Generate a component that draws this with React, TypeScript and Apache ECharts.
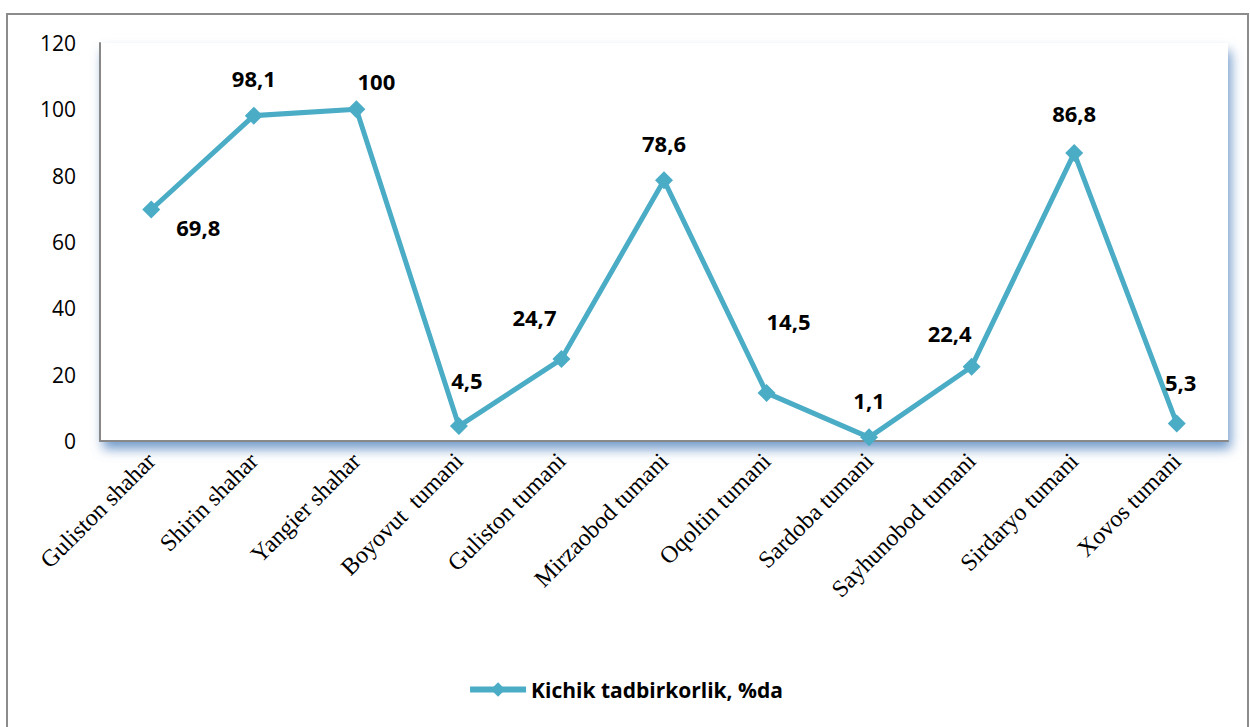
import React, { useEffect, useRef } from "react";
import * as echarts from "echarts";

const categories = [
  "Guliston shahar",
  "Shirin shahar",
  "Yangier shahar",
  "Boyovut  tumani",
  "Guliston tumani",
  "Mirzaobod tumani",
  "Oqoltin tumani",
  "Sardoba tumani",
  "Sayhunobod tumani",
  "Sirdaryo tumani",
  "Xovos tumani",
];
const values = [69.8, 98.1, 100, 4.5, 24.7, 78.6, 14.5, 1.1, 22.4, 86.8, 5.3];
const seriesName = "Kichik tadbirkorlik, %da";
// label offsets [dx, dy] relative to point
const labelOffsets: [number, number][] = [
  [47, 18],
  [0, -38],
  [20, -28],
  [8, -46],
  [-27, -42],
  [0, -37],
  [22, -72],
  [0, -37],
  [-22, -34],
  [0, -40],
  [4, -41],
];

export default function App() {
  const ref = useRef<HTMLDivElement>(null);
  useEffect(() => {
    if (!ref.current) return;
    const chart = echarts.init(ref.current, null, { renderer: "svg" });
    const color = "#4BACC6";
    chart.setOption({
      animation: false,
      backgroundColor: "#ffffff",
      graphic: [
        {
          type: "rect",
          shape: { x: 7, y: 14, width: 1241, height: 730 },
          style: { fill: "none", stroke: "#8c8c8c", lineWidth: 2 },
          z: -10,
        },
      ],
      grid: {
        left: 100,
        right: 22,
        top: 43,
        bottom: 286,
        show: true,
        backgroundColor: "#ffffff",
        borderWidth: 0,
        shadowColor: "rgba(79,129,189,0.8)",
        shadowBlur: 12,
        shadowOffsetX: 3,
        shadowOffsetY: 8,
      },
      legend: {
        bottom: 22,
        left: "center",
        itemWidth: 56,
        itemHeight: 18,
        itemGap: 6,
        lineStyle: { width: 6 },
        textStyle: {
          fontFamily: "Open Sans",
          fontWeight: "bold",
          fontSize: 21,
          color: "#000",
        },
        data: [seriesName],
      },
      xAxis: {
        type: "category",
        data: categories,
        boundaryGap: true,
        axisLine: { show: true, lineStyle: { color: "#888888", width: 2 } },
        axisTick: { show: false },
        axisLabel: {
          rotate: 45,
          interval: 0,
          margin: 16,
          fontFamily: "Liberation Serif",
          fontSize: 24,
          color: "#000",
        },
      },
      yAxis: {
        type: "value",
        min: 0,
        max: 120,
        interval: 20,
        axisLine: { show: true, lineStyle: { color: "#888888", width: 2 } },
        axisTick: { show: false },
        splitLine: { show: false },
        axisLabel: {
          margin: 24,
          fontFamily: "Open Sans",
          fontSize: 21,
          color: "#000",
        },
      },
      series: [
        {
          name: seriesName,
          type: "line",
          data: values.map((v, i) => ({
            value: v,
            label: { offset: labelOffsets[i] },
          })),
          symbol: "diamond",
          symbolSize: 18,
          lineStyle: { color, width: 5 },
          itemStyle: { color },
          label: {
            show: true,
            position: "inside",
            formatter: (p: any) => String(p.value).replace(".", ","),
            fontFamily: "Open Sans",
            fontWeight: "bold",
            fontSize: 22,
            color: "#000",
          },
        },
      ],
    });
    return () => chart.dispose();
  }, []);
  return (
    <div
      ref={ref}
      style={{ position: "fixed", left: 0, top: 0, width: 1250, height: 727 }}
    />
  );
}
